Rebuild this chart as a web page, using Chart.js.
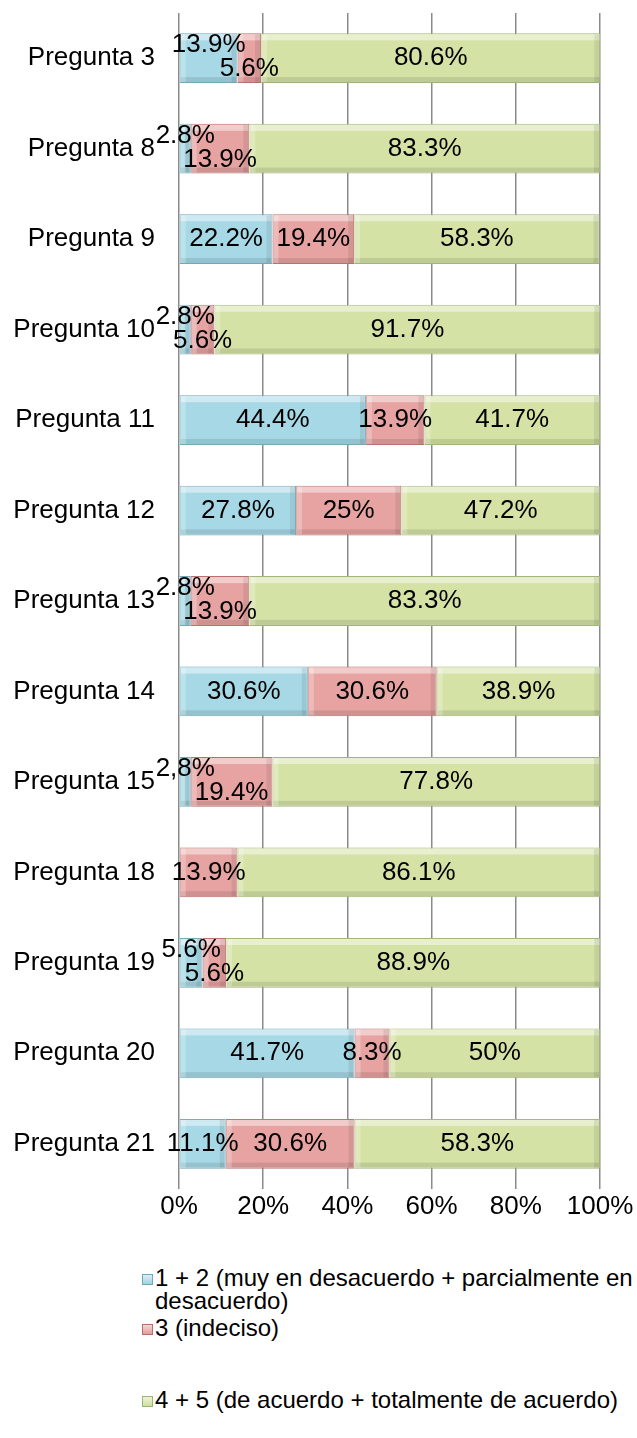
<!DOCTYPE html>
<html>
<head>
<meta charset="utf-8">
<script src="https://cdn.jsdelivr.net/npm/chart.js@4"></script>
<style>
  body { margin: 0; background: #fff; font-family: "Liberation Sans", Arial, sans-serif; }
  #wrap { position: relative; width: 637px; height: 1438px; }
  #box { position: absolute; left: 0; top: 0; width: 637px; height: 1229px; }
  .leg { position: absolute; left: 142px; font-size: 24px; line-height: 23px; color: #000; white-space: nowrap; }
  .leg .mk { position: absolute; left: 0; top: 8px; width: 9px; height: 9px; border: 1px solid; }
  .leg .tx { margin-left: 13px; }
</style>
</head>
<body>
<div id="wrap">
  <div id="box"><canvas id="chart"></canvas></div>
  <div class="leg" style="top:1266px"><span class="mk" style="background:linear-gradient(#d8f0f6,#9fd3e2);border-color:#6fa8b8"></span><div class="tx">1 + 2 (muy en desacuerdo + parcialmente en<br>desacuerdo)</div></div>
  <div class="leg" style="top:1316px"><span class="mk" style="background:linear-gradient(#f6d6d5,#e29e9c);border-color:#b86f6c"></span><div class="tx">3 (indeciso)</div></div>
  <div class="leg" style="top:1388px"><span class="mk" style="background:linear-gradient(#eef4d8,#cfe0a0);border-color:#9fb474"></span><div class="tx">4 + 5 (de acuerdo + totalmente de acuerdo)</div></div>
</div>
<script>
const categories = ["Pregunta 3", "Pregunta 8", "Pregunta 9", "Pregunta 10", "Pregunta 11", "Pregunta 12",
  "Pregunta 13", "Pregunta 14", "Pregunta 15", "Pregunta 18", "Pregunta 19", "Pregunta 20", "Pregunta 21"];
const desacuerdo = [13.9, 2.8, 22.2, 2.8, 44.4, 27.8, 2.8, 30.6, 2.8, 0, 5.6, 41.7, 11.1];
const indeciso   = [5.6, 13.9, 19.4, 5.6, 13.9, 25, 13.9, 30.6, 19.4, 13.9, 5.6, 8.3, 30.6];
const acuerdo    = [80.6, 83.3, 58.3, 91.7, 41.7, 47.2, 83.3, 38.9, 77.8, 86.1, 88.9, 50, 58.3];
const xTicks = [0, 20, 40, 60, 80, 100];
// one label in the original was typed with a comma
const labelOverride = { "0-8": "2,8%" };

const FONT = { family: "'Liberation Sans', Arial, sans-serif", size: 26 };

const barLabels = {
  id: 'barLabels',
  afterDatasetsDraw(chart) {
    const ctx = chart.ctx;
    // bevel look
    chart.data.datasets.forEach((ds, di) => {
      chart.getDatasetMeta(di).data.forEach(bar => {
        const { x, y, base, height } = bar.getProps(['x', 'y', 'base', 'height'], true);
        const w = x - base;
        if (w <= 0) return;
        const top = y - height / 2, bot = y + height / 2;
        ctx.save();
        ctx.fillStyle = 'rgba(255,255,255,0.45)';
        ctx.fillRect(base + 1, top + 1, w - 2, 6);
        ctx.fillStyle = 'rgba(0,0,0,0.10)';
        ctx.fillRect(base + 1, bot - 6, w - 2, 5);
        ctx.fillStyle = 'rgba(255,255,255,0.25)';
        ctx.fillRect(base + 1, top + 1, 5, height - 2);
        ctx.fillStyle = 'rgba(0,0,0,0.08)';
        ctx.fillRect(x - 6, top + 1, 5, height - 2);
        ctx.restore();
      });
    });

    ctx.save();
    ctx.font = FONT.size + 'px ' + FONT.family;
    ctx.fillStyle = '#000';
    ctx.textAlign = 'center';
    ctx.textBaseline = 'middle';
    categories.forEach((c, i) => {
      const items = [];
      chart.data.datasets.forEach((ds, di) => {
        const v = ds.data[i];
        if (!v) return;
        const bar = chart.getDatasetMeta(di).data[i];
        const txt = labelOverride[di + '-' + i] || (v + '%');
        const cx = (bar.base + bar.x) / 2;
        const w = ctx.measureText(txt).width;
        items.push({ txt, cx, y: bar.y, l: cx - w / 2, r: cx + w / 2, dy: 0 });
      });
      for (let k = 1; k < items.length; k++) {
        if (items[k - 1].r + 2 > items[k].l) {
          items[k - 1].dy = -13;
          items[k].dy = 11;
        }
      }
      items.forEach(it => ctx.fillText(it.txt, it.cx, it.y + it.dy));
    });
    ctx.restore();
  }
};

new Chart(document.getElementById('chart'), {
  type: 'bar',
  data: {
    labels: categories,
    datasets: [
      { label: '1 + 2 (muy en desacuerdo + parcialmente en desacuerdo)', data: desacuerdo,
        backgroundColor: '#a6d8e6', borderColor: '#72a9b9', borderWidth: 1 },
      { label: '3 (indeciso)', data: indeciso,
        backgroundColor: '#e6a3a1', borderColor: '#b8716e', borderWidth: 1 },
      { label: '4 + 5 (de acuerdo + totalmente de acuerdo)', data: acuerdo,
        backgroundColor: '#d4e2a6', borderColor: '#a2b57a', borderWidth: 1 }
    ]
  },
  options: {
    indexAxis: 'y',
    responsive: true,
    maintainAspectRatio: false,
    animation: false,
    categoryPercentage: 1,
    barPercentage: 0.55,
    layout: { padding: { top: 13, right: 37, left: 0, bottom: 0 } },
    plugins: { legend: { display: false }, tooltip: { enabled: false } },
    scales: {
      x: {
        stacked: true, min: 0, max: 100,
        afterBuildTicks: s => { s.ticks = xTicks.map(v => ({ value: v })); },
        afterFit: s => { s.height = 40; },
        grid: { color: '#8a8a8a', lineWidth: 1.5, drawTicks: false },
        border: { display: false },
        ticks: { color: '#000', font: FONT, padding: 2, callback: v => v + '%' }
      },
      y: {
        stacked: true,
        afterFit: s => { s.width = 179; s.paddingTop = 0; s.paddingBottom = 0; },
        grid: { display: false, drawTicks: false },
        border: { display: false },
        ticks: { color: '#000', font: FONT, padding: 24 }
      }
    }
  },
  plugins: [barLabels]
});
</script>
</body>
</html>
